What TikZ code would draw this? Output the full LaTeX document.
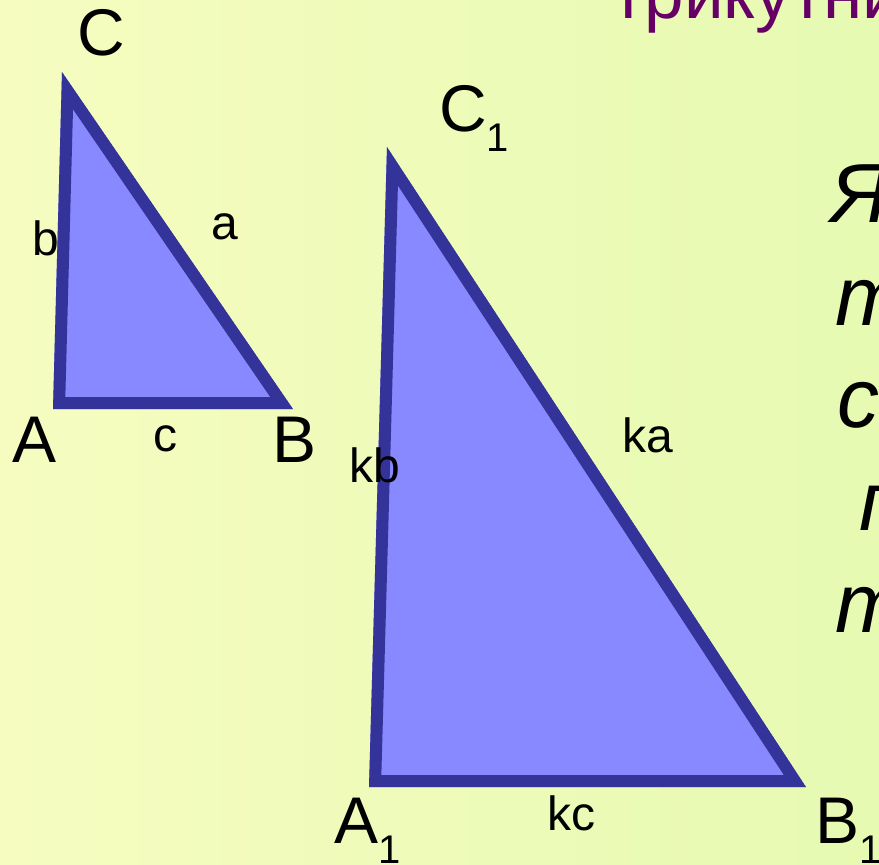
\documentclass[tikz,border=0pt]{standalone}
\usepackage{fontspec}
\setmainfont{Liberation Sans}
\definecolor{triFill}{HTML}{8888FF}
\definecolor{triLine}{HTML}{333399}
\definecolor{titlePurple}{HTML}{660066}
\definecolor{bgLeft}{HTML}{F6FCC0}
\definecolor{bgRight}{HTML}{E6FAB2}
\begin{document}
\begin{tikzpicture}[x=1pt,y=-1pt,
  tri/.style={fill=triFill, draw=triLine, line width=24pt, line join=miter},
  vlabel/.style={inner sep=0pt, anchor=base west, font=\fontsize{66}{66}\selectfont},
  slabel/.style={inner sep=0pt, anchor=base west, font=\fontsize{48}{48}\selectfont},
  bodytext/.style={inner sep=0pt, anchor=base west, font=\fontsize{84}{84}\selectfont\itshape},
  titletext/.style={inner sep=0pt, anchor=base west, text=titlePurple, font=\fontsize{71}{71}\selectfont}]
\newcommand{\subone}{\raisebox{-20pt}{\fontsize{40}{40}\selectfont 1}}
\shade[left color=bgLeft, right color=bgRight] (0,0) rectangle (879,865);
\useasboundingbox (0,0) rectangle (879,865);

% small triangle
\coordinate (C) at (62,72);
\coordinate (A) at (53,409);
\coordinate (B) at (293,409);
\begin{scope}
  \clip (C) -- (A) -- (B) -- cycle;
  \draw[tri] (C) -- (A) -- (B) -- cycle;
\end{scope}

% large triangle
\coordinate (C1) at (387,147);
\coordinate (A1) at (369,787);
\coordinate (B1) at (806,787);
\begin{scope}
  \clip (C1) -- (A1) -- (B1) -- cycle;
  \draw[tri] (C1) -- (A1) -- (B1) -- cycle;
\end{scope}

% vertex labels
\node[vlabel] (lC) at (77,55) {C};
\node[vlabel] (lA) at (12,462) {A};
\node[vlabel] (lB) at (272,462) {B};
\node[vlabel] (lC1) at (439,131) {C\subone};
\node[vlabel] (lA1) at (334,843) {A\subone};
\node[vlabel] (lB1) at (815,843) {B\subone};

% side labels
\node[slabel] (sb) at (32,255) {b};
\node[slabel] (sa) at (211,239) {a};
\node[slabel] (sc) at (153,451) {c};
\node[slabel] (skb) at (349,482) {kb};
\node[slabel] (ska) at (622,452) {ka};
\node[slabel] (skc) at (547,830) {kc};

% title and text (cut at the edge)
\node[titletext] (title) at (612,18) {трикутни};
\node[bodytext] (t1) at (831,222) {Я};
\node[bodytext] (t2) at (835,325) {т};
\node[bodytext] (t3) at (837,427) {с};
\node[bodytext] (t4) at (859,530) {п};
\node[bodytext] (t5) at (835,632) {т};
\end{tikzpicture}
\end{document}
